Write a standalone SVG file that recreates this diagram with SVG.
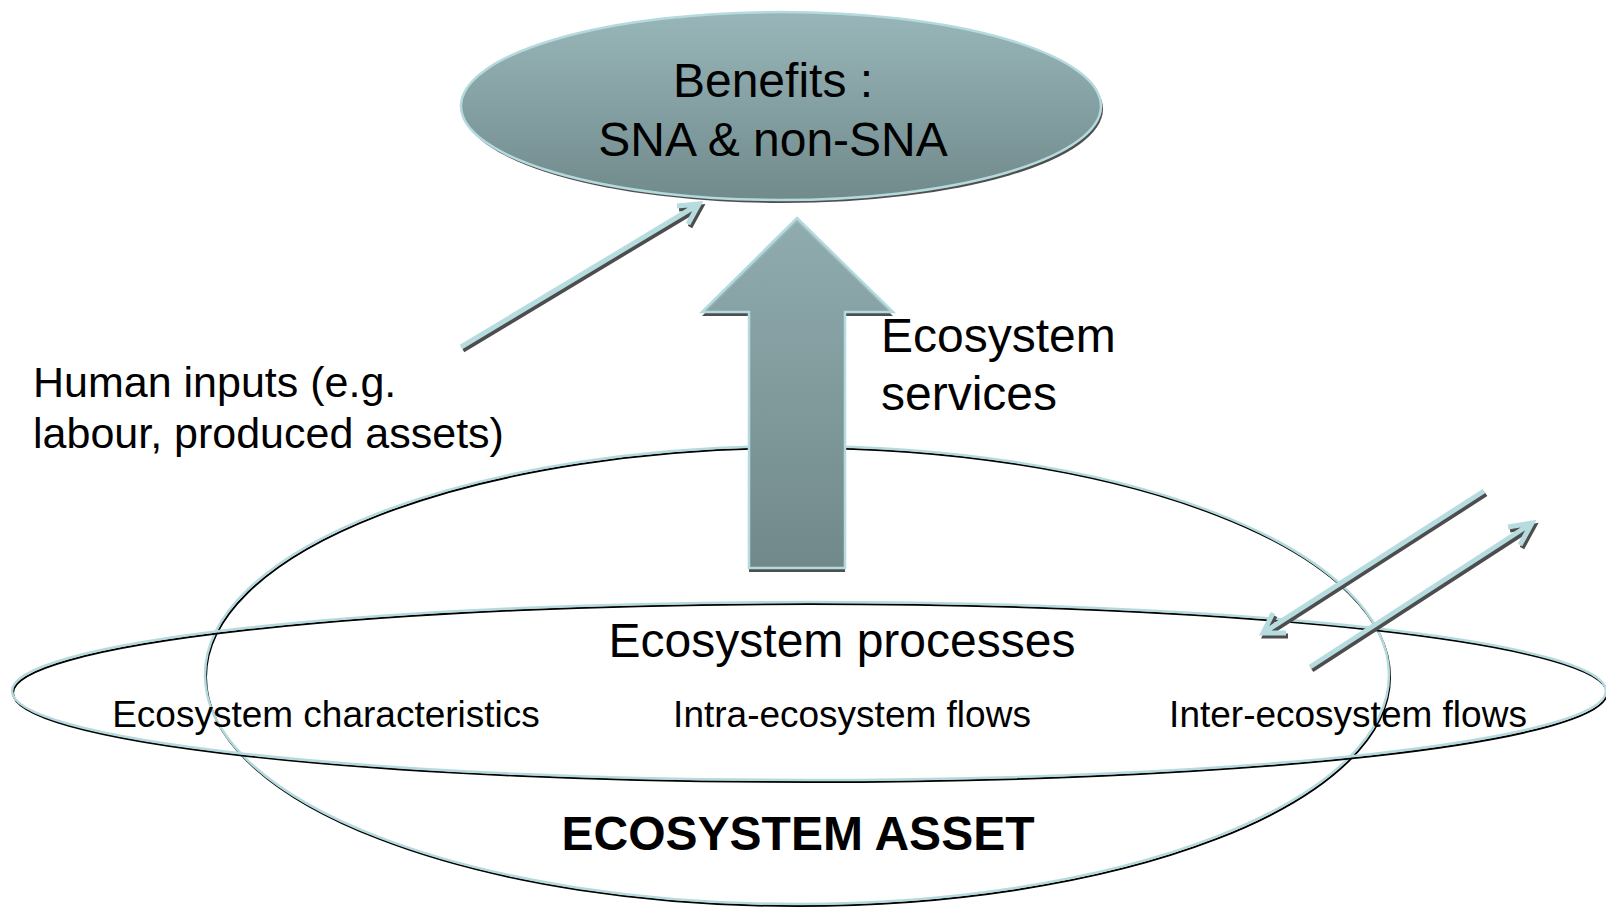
<svg xmlns="http://www.w3.org/2000/svg" xmlns:xlink="http://www.w3.org/1999/xlink" width="1606" height="907" viewBox="0 0 1606 907">
<defs>
<style>
.t{font-family:"Liberation Sans",Arial,sans-serif;fill:#000}
.ob{fill:none;stroke:#000;stroke-width:2}
.ol{fill:none;stroke:#b5dade;stroke-width:2.5}
.sh{fill:none;stroke:#4d4d4d;stroke-width:5;stroke-linecap:butt;stroke-linejoin:miter}
.ln{fill:none;stroke:#b6dcdf;stroke-width:5;stroke-linecap:butt;stroke-linejoin:miter}
</style>
<linearGradient id="gE" x1="0" y1="0" x2="0" y2="1">
<stop offset="0" stop-color="#98b6b9"/>
<stop offset="1" stop-color="#718a8c"/>
</linearGradient>
<linearGradient id="gA" x1="0" y1="0" x2="0" y2="1">
<stop offset="0" stop-color="#95b3b6"/>
<stop offset="1" stop-color="#748d8f"/>
</linearGradient>
<path id="pA1" d="M461,347 L699,204 M677,206 L699,204 L688,224"/>
<path id="pA2" d="M1484,491 L1263,633 M1273,613 L1263,633 L1286,633"/>
<path id="pA3" d="M1310,667 L1532,523 M1508,527 L1532,523 L1520,545"/>
<path id="pBig" d="M797,218 L893,312 L845,312 L845,568 L749,568 L749,312 L702,312 Z"/>
</defs>
<rect width="1606" height="907" fill="#fff"/>

<g id="ecosystem-asset">
<ellipse class="ob" cx="798" cy="677" rx="592" ry="229"/>
<ellipse class="ol" cx="797" cy="675" rx="592" ry="229"/>
<text class="t" x="798" y="850" font-size="48" font-weight="bold" text-anchor="middle">ECOSYSTEM ASSET</text>
</g>

<g id="ecosystem-processes">
<ellipse class="ob" cx="810" cy="693" rx="797" ry="89"/>
<ellipse class="ol" cx="809" cy="691" rx="797" ry="89"/>
<text class="t" x="842" y="657" font-size="48" text-anchor="middle">Ecosystem processes</text>
<text class="t" x="326" y="727" font-size="37" text-anchor="middle">Ecosystem characteristics</text>
<text class="t" x="852" y="727" font-size="37" text-anchor="middle">Intra-ecosystem flows</text>
<text class="t" x="1348" y="727" font-size="37" text-anchor="middle">Inter-ecosystem flows</text>
</g>

<g id="benefits">
<ellipse cx="783" cy="109" rx="320" ry="94" fill="#4f4f4f"/>
<ellipse cx="781" cy="106" rx="320" ry="94" fill="url(#gE)" stroke="#b5dade" stroke-width="2.5"/>
<text class="t" x="773" y="97" font-size="48" text-anchor="middle">Benefits :</text>
<text class="t" x="773" y="156" font-size="48" text-anchor="middle">SNA &amp; non-SNA</text>
</g>

<g id="connectors">
<use xlink:href="#pA1" class="sh" transform="translate(2,3)"/>
<use xlink:href="#pA1" class="ln"/>
<use xlink:href="#pA2" class="sh" transform="translate(2,3)"/>
<use xlink:href="#pA2" class="ln"/>
<use xlink:href="#pA3" class="sh" transform="translate(2,3)"/>
<use xlink:href="#pA3" class="ln"/>
<use xlink:href="#pBig" fill="#4f4f4f" transform="translate(0,4)"/>
<use xlink:href="#pBig" fill="url(#gA)" fill-opacity="0.93" stroke="#b5dade" stroke-width="2.5"/>
</g>

<g id="labels">
<text class="t" x="881" y="352" font-size="48">Ecosystem</text>
<text class="t" x="881" y="410" font-size="48">services</text>
<text class="t" x="33" y="397" font-size="43">Human inputs (e.g.</text>
<text class="t" x="33" y="448" font-size="43">labour, produced assets)</text>
</g>
</svg>
